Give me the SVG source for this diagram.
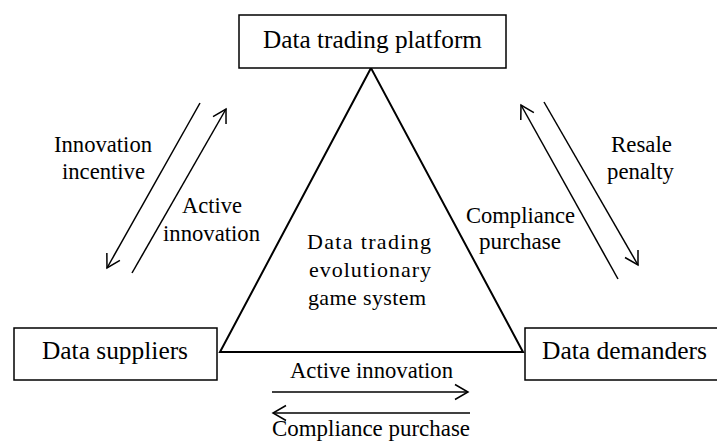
<svg xmlns="http://www.w3.org/2000/svg" width="717" height="443" viewBox="0 0 717 443">
  <defs>
    <marker id="open-arrow" viewBox="-16 -9 18 18" refX="0" refY="0" markerWidth="18" markerHeight="18" markerUnits="userSpaceOnUse" orient="auto">
      <path d="M -13,-7.5 L 0,0 L -13,7.5" fill="none" stroke="#000" stroke-width="1.5" stroke-linejoin="miter"/>
    </marker>
  </defs>
  <style>
    .box { fill: #fff; stroke: #000; stroke-width: 1.5; }
    .tri { fill: none; stroke: #000; stroke-width: 2; stroke-linejoin: miter; }
    .flow { fill: none; stroke: #000; stroke-width: 1.5; marker-end: url(#open-arrow); }
    text { font-family: "Liberation Serif", "Times New Roman", Times, serif; fill: #000; }
    .node-label { font-size: 25px; text-anchor: middle; }
    .edge-label { font-size: 22.5px; text-anchor: middle; }
    .core-label { font-size: 22px; text-anchor: middle; }
  </style>

  <rect width="717" height="443" fill="#fff"/>

  <!-- central game system triangle -->
  <g id="game-system">
    <polygon class="tri" points="371,68 220,352 523,352"/>
    <text class="core-label" x="369" y="249" textLength="124" lengthAdjust="spacing">Data trading</text>
    <text class="core-label" x="370" y="277" textLength="122" lengthAdjust="spacing">evolutionary</text>
    <text class="core-label" x="367" y="305" textLength="118" lengthAdjust="spacing">game system</text>
  </g>

  <g id="platform">
    <rect class="box" x="239" y="15" width="267" height="53"/>
    <text class="node-label" x="372.5" y="48" textLength="219" lengthAdjust="spacingAndGlyphs">Data trading platform</text>
  </g>

  <g id="suppliers">
    <rect class="box" x="14" y="328" width="203" height="52"/>
    <text class="node-label" x="115" y="359" textLength="146" lengthAdjust="spacingAndGlyphs">Data suppliers</text>
  </g>

  <g id="demanders">
    <rect class="box" x="525" y="328" width="200" height="52"/>
    <text class="node-label" x="624.5" y="359" textLength="165" lengthAdjust="spacingAndGlyphs">Data demanders</text>
  </g>

  <!-- flows between the players -->
  <g id="connectors">
    <line class="flow" x1="200" y1="103" x2="107" y2="268"/>
    <line class="flow" x1="132" y1="273" x2="226" y2="109"/>
    <line class="flow" x1="618" y1="279" x2="521" y2="105"/>
    <line class="flow" x1="544" y1="102" x2="638" y2="265"/>
    <line class="flow" x1="272" y1="392" x2="468" y2="392"/>
    <line class="flow" x1="470" y1="413" x2="273" y2="413"/>

    <text class="edge-label" x="103" y="152" textLength="98" lengthAdjust="spacingAndGlyphs">Innovation</text>
    <text class="edge-label" x="103.5" y="179" textLength="83" lengthAdjust="spacingAndGlyphs">incentive</text>
    <text class="edge-label" x="212" y="213" textLength="60" lengthAdjust="spacingAndGlyphs">Active</text>
    <text class="edge-label" x="211.5" y="241" textLength="97" lengthAdjust="spacingAndGlyphs">innovation</text>

    <text class="edge-label" x="520.5" y="223" textLength="109" lengthAdjust="spacingAndGlyphs">Compliance</text>
    <text class="edge-label" x="520" y="249" textLength="82" lengthAdjust="spacingAndGlyphs">purchase</text>
    <text class="edge-label" x="641.5" y="152" textLength="61" lengthAdjust="spacingAndGlyphs">Resale</text>
    <text class="edge-label" x="640.5" y="179" textLength="67" lengthAdjust="spacingAndGlyphs">penalty</text>

    <text class="edge-label" x="371.5" y="378" textLength="163" lengthAdjust="spacingAndGlyphs">Active innovation</text>
    <text class="edge-label" x="371" y="436" textLength="198" lengthAdjust="spacingAndGlyphs">Compliance purchase</text>
  </g>
</svg>
